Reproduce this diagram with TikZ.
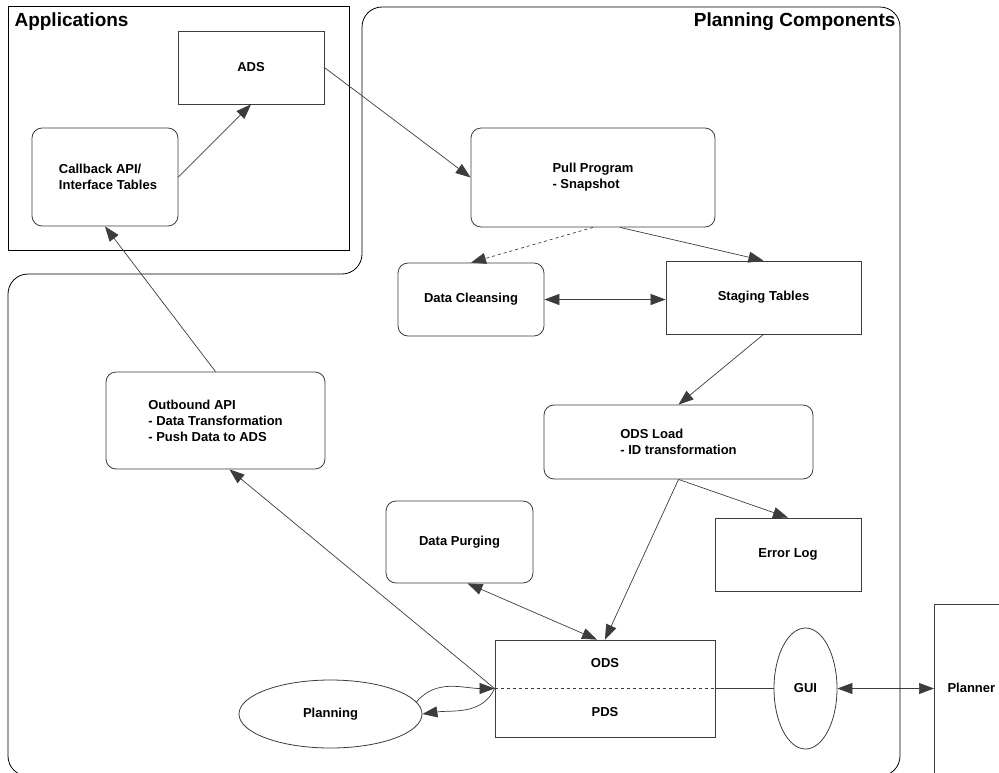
\documentclass[tikz,border=0pt]{standalone}
\usepackage{fontspec}
\setmainfont{Liberation Sans}
\usepackage{xcolor}
\usepackage{tikz}
\usetikzlibrary{arrows.meta,shapes.geometric}

\definecolor{boxgray}{RGB}{60,60,60}

\begin{document}
\begin{tikzpicture}[x=1pt,y=-1pt,
    every node/.style={font=\fontsize{13}{16}\selectfont\bfseries},
    sqbox/.style={draw=boxgray,line width=0.8pt,rectangle,inner sep=0pt},
    rbox/.style={sqbox,rounded corners=10pt},
    oval/.style={draw=boxgray,line width=0.8pt,ellipse,inner sep=0pt},
    link/.style={draw=boxgray,line width=0.7pt},
    tip/.style={link,-{Triangle[length=15pt,width=11pt]}},
    twotip/.style={link,{Triangle[length=15pt,width=11pt]}-{Triangle[length=15pt,width=11pt]}},
    title/.style={font=\fontsize{19}{22}\selectfont\bfseries}]
  \useasboundingbox (0,0) rectangle (999,772);
  \clip (0,0) rectangle (999,772);
    % Frames
  \draw[line width=0.8pt] (8,6) rectangle (349,250);
  \draw[line width=0.8pt,rounded corners=20pt] (8,776) -- (8,274) -- (362,274)
      -- (362,7) -- (900,7) -- (900,776) -- cycle;
  \node[title,anchor=west] (apps) at (11,22) {Applications};
  \node[title,anchor=east] (comps) at (899,22) {Planning Components};
    % Applications
  \node[sqbox,minimum width=146,minimum height=73] (ads) at (251,67.5) {ADS};
  \node[rbox,minimum width=146,minimum height=98,align=left] (callback) at (105,177)
      {\hspace*{6pt}Callback API/\\\hspace*{6pt}Interface Tables};
    % Planning components
  \node[rbox,minimum width=244,minimum height=99,align=left] (pull) at (593,177.5)
      {Pull Program\\- Snapshot};
  \node[rbox,minimum width=146,minimum height=73] (cleanse) at (471,299.5) {Data Cleansing};
  \node[sqbox,minimum width=195,minimum height=73] (staging) at (763.5,297.5) {Staging Tables};
  \node[rbox,minimum width=269,minimum height=74,align=left] (odsload) at (678.5,442)
      {ODS Load\\- ID transformation};
  \node[sqbox,minimum width=146,minimum height=73] (errlog) at (788,554.5) {Error Log};
  \node[rbox,minimum width=147,minimum height=82] (purge) at (459.5,542) {Data Purging};
  \node[rbox,minimum width=219,minimum height=97,align=left] (outbound) at (215.5,420.5)
      {Outbound API\\- Data Transformation\\- Push Data to ADS};
  \node[sqbox,minimum width=220,minimum height=97] (odsbox) at (605,688.5) {};
  \node (ods) at (605,663) {ODS};
  \node (pds) at (605,712) {PDS};
  \draw[link,dashed] (odsbox.west) -- (odsbox.east);
  \node[oval,minimum width=183,minimum height=68] (planning) at (330.5,714) {Planning};
  \node[oval,minimum width=63,minimum height=121] (gui) at (805.5,688.5) {GUI};
    % Planner
  \node[sqbox,anchor=north west,minimum width=120,minimum height=300] (plannerbox) at (934,604) {};
  \node[anchor=west] (planner) at (944,688) {Planner};
    % Connectors
  \draw[tip] (callback.east) -- (ads.south);
  \draw[tip] (ads.east) -- (pull.west);
  \draw[tip] (outbound.north) -- (callback.south);
  \draw[tip] (odsbox.west) -- ([xshift=14pt]outbound.south);
  \draw[tip,dashed] (pull.south) -- (cleanse.north);
  \draw[tip] ([xshift=27pt]pull.south) -- (staging.north);
  \draw[twotip] (cleanse.east) -- (cleanse.east -| staging.west);
  \draw[tip] (staging.south) -- (odsload.north);
  \draw[tip] (odsload.south) -- (errlog.north);
  \draw[tip] (odsload.south) -- (odsbox.north);
  \draw[twotip] ([xshift=8pt]purge.south) -- ([xshift=-8pt]odsbox.north);
  \draw[tip] (planning.8) to[out=50,in=180] (odsbox.west);
  \draw[tip] (odsbox.west) to[out=-115,in=8] (planning.east);
  \draw[link] (odsbox.east) -- (gui.west);
  \draw[twotip] (gui.east) -- (gui.east -| plannerbox.west);
\end{tikzpicture}
\end{document}
